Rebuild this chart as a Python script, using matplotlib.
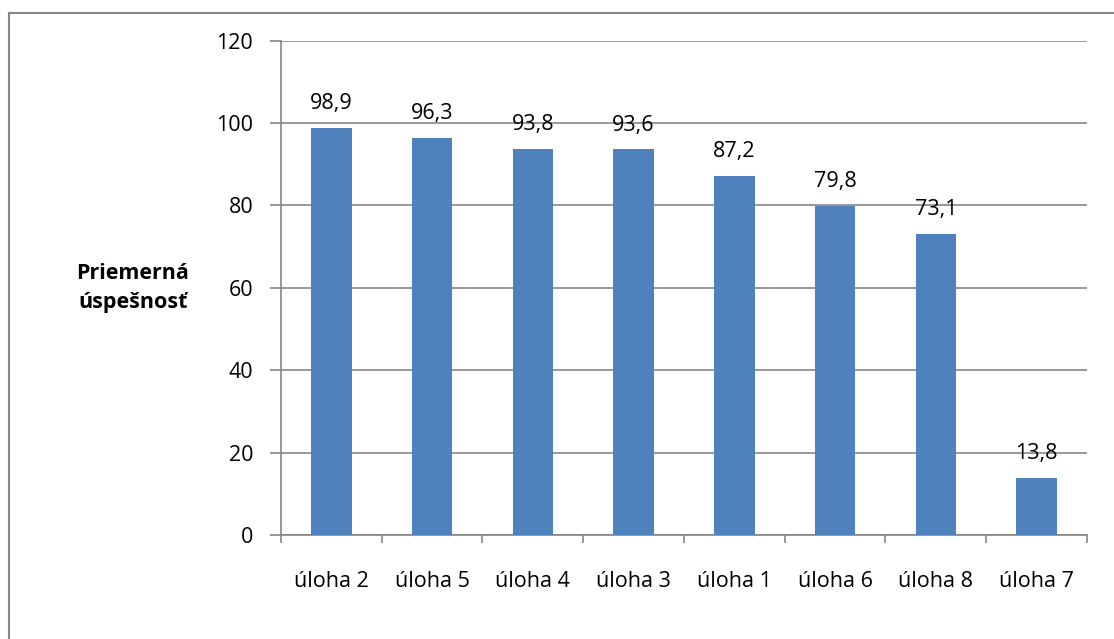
import numpy as np
import matplotlib.pyplot as plt
from matplotlib.lines import Line2D

# ─── Data ─────────────────────────────────────────────────────────────────────
categories = ["úloha 2", "úloha 5", "úloha 4", "úloha 3",
              "úloha 1", "úloha 6", "úloha 8", "úloha 7"]
values = [98.9, 96.3, 93.8, 93.6, 87.2, 79.8, 73.1, 13.8]
y_ticks = [0, 20, 40, 60, 80, 100, 120]

# ─── Style ────────────────────────────────────────────────────────────────────
plt.rcParams["font.family"] = ["Open Sans", "DejaVu Sans"]
BAR_COLOUR = "#4f81bd"
GRID_COLOUR = "#868686"
FONT_SIZE = 15.5

fig = plt.figure(figsize=(11.14, 6.39), dpi=100)
ax = fig.add_axes([281 / 1114, 1 - 535 / 639, (1087 - 281) / 1114, (535 - 40.7) / 639])

x = np.arange(len(categories))
ax.bar(x, values, width=0.4, color=BAR_COLOUR, zorder=3)

for xi, v in zip(x, values):
    ax.annotate(f"{v:.1f}".replace(".", ","), (xi, v),
                xytext=(0, 10), textcoords="offset points",
                ha="center", va="bottom", fontsize=FONT_SIZE, zorder=4)

ax.set_xlim(-0.5, len(categories) - 0.5)
ax.set_ylim(0, 120)
ax.set_yticks(y_ticks)
ax.set_yticklabels([str(t) for t in y_ticks], fontsize=FONT_SIZE)
ax.set_xticks(x)
ax.set_xticklabels(categories, fontsize=FONT_SIZE)
ax.tick_params(axis="x", length=0, pad=26)
ax.tick_params(axis="y", length=8, color=GRID_COLOUR, width=1.2, pad=12)

# category boundary ticks on the x axis
ax.set_xticks(np.arange(-0.5, len(categories)), minor=True)
ax.tick_params(axis="x", which="minor", length=6, color=GRID_COLOUR, width=1.2)

ax.grid(axis="y", color=GRID_COLOUR, linewidth=1.2, zorder=0)
ax.set_axisbelow(True)
for side in ("top", "right"):
    ax.spines[side].set_visible(False)
for side in ("left", "bottom"):
    ax.spines[side].set_color(GRID_COLOUR)
    ax.spines[side].set_linewidth(1.2)

fig.text(133 / 1114, 1 - 288 / 639, "Priemerná\núspešnosť",
         ha="center", va="center", fontsize=FONT_SIZE, fontweight="bold",
         linespacing=1.45)

# outer chart frame (only top and left edges visible)
fig.add_artist(Line2D([9 / 1114, 9 / 1114], [0, 1 - 13 / 639],
                      transform=fig.transFigure, color=GRID_COLOUR, linewidth=1.5))
fig.add_artist(Line2D([9 / 1114, 1], [1 - 13 / 639, 1 - 13 / 639],
                      transform=fig.transFigure, color=GRID_COLOUR, linewidth=1.5))

fig.savefig("out.png", dpi=100)
